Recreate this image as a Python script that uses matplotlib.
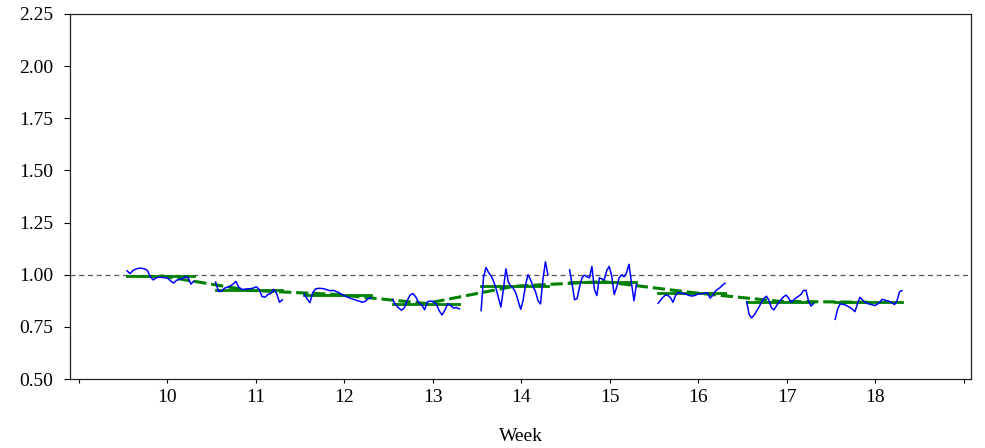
import numpy as np
import matplotlib
matplotlib.use("Agg")
import matplotlib.pyplot as plt

plt.rcParams["font.family"] = ["Liberation Serif", "DejaVu Serif"]

# weekly readings (ratio to baseline), one list per week
weeks = [10, 11, 12, 13, 14, 15, 16, 17, 18]
SEG_START, SEG_END = -0.455, 0.30  # span of readings inside each week

w10 = [1.019, 1.005, 1.020, 1.027, 1.031, 1.031, 1.028, 1.020, 0.990, 0.975, 0.985, 0.988,
       0.987, 0.986, 0.983, 0.970, 0.960, 0.973, 0.978, 0.980, 0.990, 0.986, 0.955, 0.970]
w11 = [0.965, 0.920, 0.920, 0.935, 0.940, 0.945, 0.955, 0.968, 0.940, 0.930, 0.930, 0.932,
       0.933, 0.936, 0.942, 0.930, 0.895, 0.892, 0.905, 0.910, 0.930, 0.910, 0.868, 0.880]
w12 = [0.908, 0.885, 0.866, 0.915, 0.932, 0.935, 0.934, 0.932, 0.927, 0.923, 0.925, 0.920,
       0.914, 0.905, 0.898, 0.892, 0.887, 0.882, 0.877, 0.873, 0.868, 0.872, 0.885, 0.890]
w13 = [0.882, 0.856, 0.842, 0.830, 0.840, 0.875, 0.902, 0.910, 0.893, 0.865, 0.856, 0.832,
       0.870, 0.874, 0.871, 0.860, 0.828, 0.807, 0.830, 0.862, 0.852, 0.840, 0.843, 0.836]
w14 = [0.828, 0.990, 1.035, 1.010, 0.995, 0.970, 0.935, 0.890, 0.845, 0.930, 1.028, 0.965,
       0.945, 0.935, 0.913, 0.873, 0.834, 0.879, 0.955, 1.000, 0.975, 0.943, 0.918, 0.875,
       0.860, 0.980, 1.062, 0.999]
w15 = [1.023, 0.955, 0.880, 0.885, 0.940, 0.985, 0.998, 0.990, 0.985, 1.040, 0.930, 0.900,
       0.985, 0.980, 0.975, 1.020, 1.040, 0.995, 0.905, 0.940, 0.985, 1.000, 0.990, 1.010,
       1.050, 0.960, 0.875, 0.955]
w16 = [0.863, 0.878, 0.893, 0.902, 0.900, 0.890, 0.868, 0.900, 0.914, 0.912, 0.910, 0.907,
       0.903, 0.899, 0.898, 0.901, 0.907, 0.909, 0.909, 0.913, 0.912, 0.888, 0.900, 0.920,
       0.930, 0.938, 0.950, 0.959]
w17 = [0.871, 0.810, 0.793, 0.806, 0.825, 0.845, 0.868, 0.887, 0.897, 0.878, 0.842, 0.831,
       0.850, 0.868, 0.882, 0.895, 0.902, 0.887, 0.868, 0.879, 0.889, 0.897, 0.906, 0.925,
       0.925, 0.875, 0.850, 0.861]
w18 = [0.786, 0.835, 0.860, 0.858, 0.856, 0.849, 0.843, 0.834, 0.823, 0.860, 0.892, 0.880,
       0.868, 0.862, 0.859, 0.856, 0.852, 0.858, 0.868, 0.882, 0.879, 0.875, 0.872, 0.865,
       0.857, 0.875, 0.918, 0.924]
readings = [w10, w11, w12, w13, w14, w15, w16, w17, w18]

week_means = [0.993, 0.925, 0.905, 0.860, 0.948, 0.967, 0.914, 0.870, 0.868]
trend = [0.995, 0.925, 0.905, 0.862, 0.945, 0.967, 0.915, 0.872, 0.868]

fig = plt.figure(figsize=(9.85, 4.48), dpi=100)
ax = fig.add_axes([70 / 985, 69 / 448, 901 / 985, 365 / 448])

ax.axhline(1.0, color="#555555", lw=0.9, dashes=(4, 3), zorder=1)

for wk, vals, m in zip(weeks, readings, week_means):
    x = wk + np.linspace(SEG_START, SEG_END, len(vals))
    ax.plot(x, vals, color="#0000ff", lw=1.1, zorder=3)
    ax.plot([wk + SEG_START, wk + SEG_END], [m, m], color="#008000", lw=2.0, zorder=2)

tx = np.array(weeks) + (SEG_START + SEG_END) / 2
ax.plot(tx, trend, color="#008000", lw=2.2, dashes=(4, 1.6), zorder=2)

ax.set_xlim(8.9, 19.08)
ax.set_ylim(0.5, 2.25)
ax.set_yticks(np.arange(0.5, 2.26, 0.25))
ax.set_yticklabels([f"{v:.2f}" for v in np.arange(0.5, 2.26, 0.25)])
xt = list(range(9, 20))
ax.set_xticks(xt)
ax.set_xticklabels([str(t) if 10 <= t <= 18 else "" for t in xt])
ax.tick_params(axis="y", length=4, width=0.8, pad=8, labelsize=14)
ax.tick_params(axis="x", length=3, width=0.8, pad=4, labelsize=14)
ax.set_xlabel("Week", fontsize=14, labelpad=16)
for s in ax.spines.values():
    s.set_linewidth(0.9)
    s.set_color("#222222")

fig.savefig("out.png", dpi=100)
